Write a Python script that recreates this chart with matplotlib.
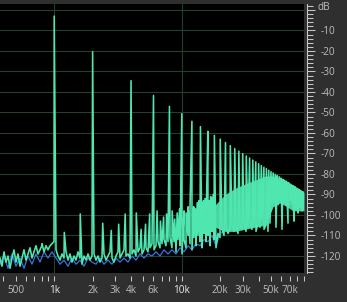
import numpy as np
import matplotlib
matplotlib.use("Agg")
import matplotlib.pyplot as plt
from matplotlib.ticker import FixedLocator, FixedFormatter, NullFormatter
from matplotlib.transforms import blended_transform_factory

# ---------------- data ----------------
# main harmonic peaks (kHz, dB)
peak_khz = [1, 2, 4, 6, 8, 10, 12, 14, 16, 18, 20, 22, 24, 26, 28, 30, 32, 34,
            36, 38, 40, 42, 44, 46, 48, 50, 52, 54, 56, 58, 60, 62, 64, 66, 68,
            70, 72, 74, 76, 78, 80, 82, 84, 86, 88, 90]
peak_db = [-3.0, -20.4, -34.5, -41.7, -47.0, -50.6, -54.3, -56.9, -59.2, -61.2,
           -63.0, -64.7, -66.2, -67.6, -68.9, -70.1, -71.2, -72.2, -73.2, -74.1,
           -75.0, -75.9, -76.7, -77.4, -78.2, -78.9, -79.5, -80.2, -80.8, -81.4,
           -82.0, -82.6, -83.1, -83.6, -84.2, -84.7, -85.2, -85.6, -86.1, -86.5,
           -87.0, -87.4, -87.8, -88.2, -88.6, -89.0]

# small spurious spikes (kHz, dB)
spur_khz = [0.8, 1.2, 1.6, 2.4, 2.8, 3.2, 3.6, 4.4, 4.8, 5.2, 5.6, 6.4, 6.8, 7.2,
            7.6, 8.4, 8.8, 9.2, 9.6, 10.4, 10.8, 11.2, 11.6, 12.4, 12.8, 13.2,
            13.6, 14.4, 14.8, 15.2, 15.6, 16.4, 16.8, 17.2, 17.6]
spur_db = [-115, -108.5, -99.5, -104, -107.5, -104.5, -99.5, -99, -107, -104.5,
           -99.5, -98, -103, -101, -99.5, -98, -102, -99, -97, -98, -99, -96, -95,
           -96, -97, -94, -93, -95, -93, -92, -94, -93, -91, -92, -90]

# noise floor, green channel (analyser bins, low -> high frequency)
floor_green_db = [
    -121, -125, -118, -123, -120, -126, -121, -117, -123, -119,
    -125, -121, -117, -122, -119, -116, -121, -118, -115, -119,
    -117, -114, -118, -115, -117, -115, -114, -113, -117, -120,
    -122, -119, -121, -118, -122, -119, -123, -120, -122, -118,
    -121, -124, -120, -122, -119, -122, -120, -119, -122, -120,
    -123, -121, -119, -122, -120, -118, -121, -123, -120, -118,
    -121, -119, -117, -120, -119, -121, -119, -117, -120, -118,
    -116, -119, -117, -116, -118, -116, -114, -117, -115, -113,
    -116, -114, -112, -115, -113, -111, -116, -113, -118, -112,
    -115, -119, -112, -116, -110, -114, -117, -111, -115, -110,
    -113, -116, -109, -113, -110, -115, -108, -112, -116, -109,
    -111, -107, -110, -106, -109, -107, -105, -108, -106, -109,
    -105, -107, -104, -108, -106, -103, -107, -105, -108, -104,
    -106, -103, -107, -105, -108, -104, -95, -94, -106, -95,
    -93, -107, -94, -95, -104, -93, -94, -103, -97, -99,
    -96, -98, -97]

# noise floor, blue channel
floor_blue_db = [
    -124, -120, -126, -119, -125, -121, -126, -120, -124, -119,
    -123, -118, -121, -118, -121, -124, -122, -125, -121, -124,
    -122, -125, -121, -123, -124, -121, -124, -122, -124, -121,
    -123, -121, -123, -120, -122, -119, -121, -119, -120, -118,
    -120, -117, -119, -117, -119, -116, -118, -115, -117, -114,
    -115, -112, -113, -110, -115, -109, -108, -107, -106, -107,
    -106, -106, -105, -106, -105, -105, -104, -105, -96, -95,
    -94, -95, -95, -94, -97, -96, -97]

# dense cluster of spurs at high frequency (kHz, top dB, bottom dB)
mass_khz = [18.3, 21.9, 26.1, 31.1, 37.5, 45.0, 51.9, 59.0, 66.7, 74.6, 84.6, 90.7]
mass_top_db = [-95, -90, -87, -85, -83, -81, -81, -83, -85, -86.5, -88, -89]
mass_bottom_db = [-106, -108, -108, -107, -106, -105, -96, -94, -96, -98, -98, -98]

# axis ticks
x_major_khz = [0.5, 1, 2, 3, 4, 6, 10, 20, 30, 50, 70]
x_major_labels = ["500", "1k", "2k", "3k", "4k", "6k", "10k", "20k", "30k", "50k", "70k"]
x_minor_khz = [0.4, 0.6, 0.7, 0.8, 0.9, 5, 7, 8, 9, 40, 60, 80, 90]
bright_labels = ["1k", "10k"]
decade_grid_khz = [1, 10]
y_major_db = [0, -10, -20, -30, -40, -50, -60, -70, -80, -90, -100, -110, -120]
y_major_labels = ["", "-10", "-20", "-30", "-40", "-50", "-60", "-70", "-80",
                  "-90", "-100", "-110", "-120"]

# ---------------- style ----------------
F_MIN, F_MAX = 0.376, 90.7
DB_MIN, DB_MAX = -128.3, 2.9
BG = "#2f2f2f"
GRID = "#22402a"
GREEN = "#50e6b0"
BLUE = "#3a74de"
TXT = "#bdbdbd"
TXT_BRIGHT = "#eaeaf2"
AXC = "#c8c8c8"
FONT = ["Open Sans", "DejaVu Sans"]
FS = 7.2

plt.rcParams["font.family"] = FONT

fig = plt.figure(figsize=(3.47, 3.02), dpi=100, facecolor=BG)
ax = fig.add_axes([0, 29 / 302, 304 / 347, 269 / 302], facecolor="black")
ax.set_xscale("log")
ax.set_xlim(F_MIN, F_MAX)
ax.set_ylim(DB_MIN, DB_MAX)

# grid
ax.yaxis.set_major_locator(FixedLocator(y_major_db))
ax.grid(axis="y", color=GRID, lw=0.8, zorder=1)
for g in decade_grid_khz:
    ax.axvline(g, color=GRID, lw=0.8, zorder=1)

# blue channel floor
fb = np.geomspace(F_MIN, F_MAX, len(floor_blue_db))
ax.plot(fb, floor_blue_db, color=BLUE, lw=0.9, zorder=2)

# dense spur cluster
ax.fill_between(mass_khz, mass_bottom_db, mass_top_db, color=GREEN, lw=0,
                alpha=0.92, zorder=3)

# green channel: floor + spurs + harmonic peaks merged into one trace
fg = np.geomspace(F_MIN, F_MAX, len(floor_green_db))
f_all = np.concatenate([fg, np.array(spur_khz, float), np.array(peak_khz, float)])
d_all = np.concatenate([np.array(floor_green_db, float), np.array(spur_db, float),
                        np.array(peak_db, float)])
order = np.argsort(f_all, kind="stable")
ax.plot(f_all[order], d_all[order], color=GREEN, lw=1.15, zorder=4)

# spines
for s in ["top", "left"]:
    ax.spines[s].set_visible(False)
ax.spines["bottom"].set_position(("outward", 2))
ax.spines["bottom"].set_color("none")
ax.spines["right"].set_position(("outward", 1.9))
ax.spines["right"].set_color(AXC)
ax.spines["right"].set_linewidth(0.75)

# x ticks
ax.xaxis.set_major_locator(FixedLocator(x_major_khz))
ax.xaxis.set_major_formatter(FixedFormatter(x_major_labels))
ax.xaxis.set_minor_locator(FixedLocator(x_minor_khz))
ax.xaxis.set_minor_formatter(NullFormatter())
ax.tick_params(axis="x", which="both", direction="out", length=3.3, width=0.75,
               color=AXC, labelcolor=TXT, labelsize=FS, pad=3.4)
for lab in ax.get_xticklabels():
    if lab.get_text() in bright_labels:
        lab.set_color(TXT_BRIGHT)

# y ticks (right side)
ax.yaxis.tick_right()
ax.yaxis.set_major_formatter(FixedFormatter(y_major_labels))
ax.yaxis.set_minor_locator(FixedLocator(np.arange(-128, 3, 2)))
ax.tick_params(axis="y", which="major", direction="out", length=5.8, width=0.75,
               color=AXC, labelcolor=TXT, labelsize=FS, pad=4.2)
ax.tick_params(axis="y", which="minor", direction="out", length=4.0, width=0.75,
               color=AXC)

tr = blended_transform_factory(ax.transAxes, ax.transData)
ax.text(318 / 304, 1.4, "dB", transform=tr, ha="left", va="center",
        color=TXT, fontsize=FS)

fig.savefig("out.png", dpi=100, facecolor=BG)
